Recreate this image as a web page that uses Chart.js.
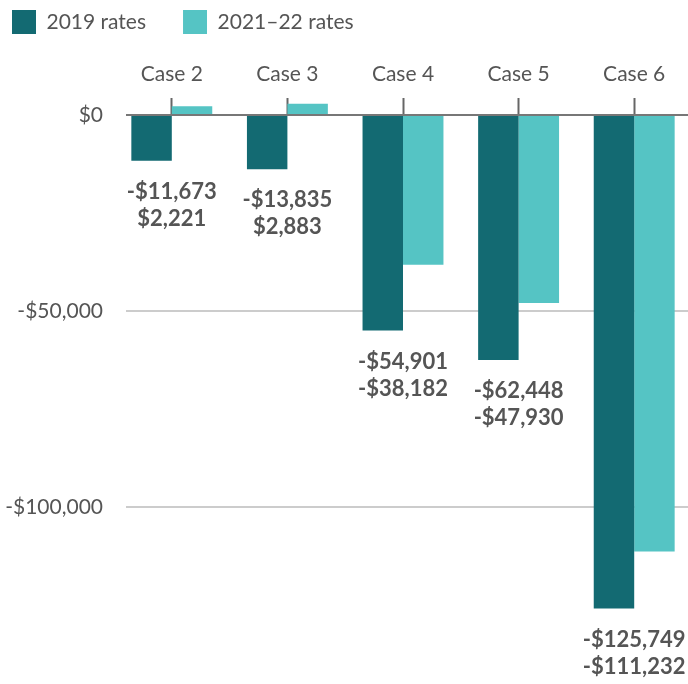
<!DOCTYPE html>
<html>
<head>
<meta charset="utf-8">
<script src="https://cdn.jsdelivr.net/npm/chart.js@4.4.1/dist/chart.umd.min.js"></script>
<style>
  html, body { margin: 0; padding: 0; background: #fff; overflow: hidden; }
  #wrap { width: 688px; height: 684px; overflow: hidden; }
</style>
</head>
<body>
<div id="wrap"><canvas id="chart" width="692" height="684"></canvas></div>
<script>
// Static data
const categories = ["Case 2", "Case 3", "Case 4", "Case 5", "Case 6"];
const rates2019 = [-11673, -13835, -54901, -62448, -125749];
const rates2021 = [2221, 2883, -38182, -47930, -111232];
const seriesNames = ["2019 rates", "2021\u201322 rates"];
const yTicks = [-100000, -50000, 0];

const darkTeal = "#136a72";
const lightTeal = "#55c4c4";
const textColor = "#555555";

const money = (v) => (v < 0 ? "-$" : "$") + Math.abs(v).toLocaleString("en-US");

// two-line value labels under each pair of bars
const pairLabels = {
    id: "pairLabels",
    afterDatasetsDraw(chart) {
        const { ctx } = chart;
        const m0 = chart.getDatasetMeta(0);
        const m1 = chart.getDatasetMeta(1);
        ctx.save();
        ctx.font = "bold 22px Lato";
        ctx.fillStyle = textColor;
        ctx.textAlign = "center";
        ctx.textBaseline = "middle";
        categories.forEach((c, i) => {
            const a = m0.data[i];
            const b = m1.data[i];
            const x = (a.x + b.x) / 2;
            const bottom = Math.max(a.y, b.y);
            ctx.fillText(money(rates2019[i]), x, bottom + 31);
            ctx.fillText(money(rates2021[i]), x, bottom + 58);
        });
        ctx.restore();
    },
};

// gridlines start a little right of the plot edge
const gridMask = {
    id: "gridMask",
    beforeDatasetsDraw(chart) {
        const { ctx, chartArea } = chart;
        ctx.save();
        ctx.fillStyle = "#ffffff";
        ctx.fillRect(chartArea.left - 1, chartArea.top - 2, 13, chartArea.bottom - chartArea.top + 4);
        ctx.restore();
    },
};

const ctx = document.getElementById("chart");
new Chart(ctx, {
    type: "bar",
    data: {
        labels: categories,
        datasets: [
            {
                label: seriesNames[0],
                data: rates2019,
                backgroundColor: darkTeal,
                categoryPercentage: 0.7,
                barPercentage: 1,
                clip: false,
            },
            {
                label: seriesNames[1],
                data: rates2021,
                backgroundColor: lightTeal,
                categoryPercentage: 0.7,
                barPercentage: 1,
                clip: false,
            },
        ],
    },
    options: {
        responsive: false,
        maintainAspectRatio: false,
        animation: false,
        layout: {
            padding: { left: -25, right: 0, top: -27, bottom: 0 },
        },
        scales: {
            x: {
                position: "top",
                offset: true,
                grid: {
                    offset: false,
                    drawOnChartArea: false,
                    tickLength: 17,
                    tickWidth: 2,
                    tickColor: "#666666",
                },
                border: { color: "#777777", width: 2 },
                ticks: {
                    padding: 11,
                    color: textColor,
                    font: { family: "Lato", size: 21 },
                },
                afterFit: (s) => {
                    s.height = 115 + 27 - s.chart.legend.height;
                    s.paddingLeft = 0;
                    s.paddingRight = 0;
                },
            },
            y: {
                min: -145000,
                max: 0,
                afterBuildTicks: (s) => {
                    s.ticks = yTicks.map((v) => ({ value: v }));
                },
                grid: {
                    drawTicks: false,
                    color: (c) => (c.tick && c.tick.value !== 0 ? "#cccccc" : "rgba(0,0,0,0)"),
                    lineWidth: 2,
                },
                border: { display: false },
                ticks: {
                    padding: 11,
                    color: textColor,
                    font: { family: "Lato", size: 21 },
                    callback: (v) => money(v),
                },
                afterFit: (s) => {
                    s.width = 139;
                    s.paddingTop = 0;
                    s.paddingBottom = 0;
                },
            },
        },
        plugins: {
            legend: {
                position: "top",
                align: "start",
                labels: {
                    boxWidth: 24,
                    boxHeight: 24,
                    padding: 37,
                    color: textColor,
                    font: { family: "Lato", size: 21 },
                },
            },
            tooltip: { enabled: false },
        },
    },
    plugins: [gridMask, pairLabels],
});
</script>
</body>
</html>
